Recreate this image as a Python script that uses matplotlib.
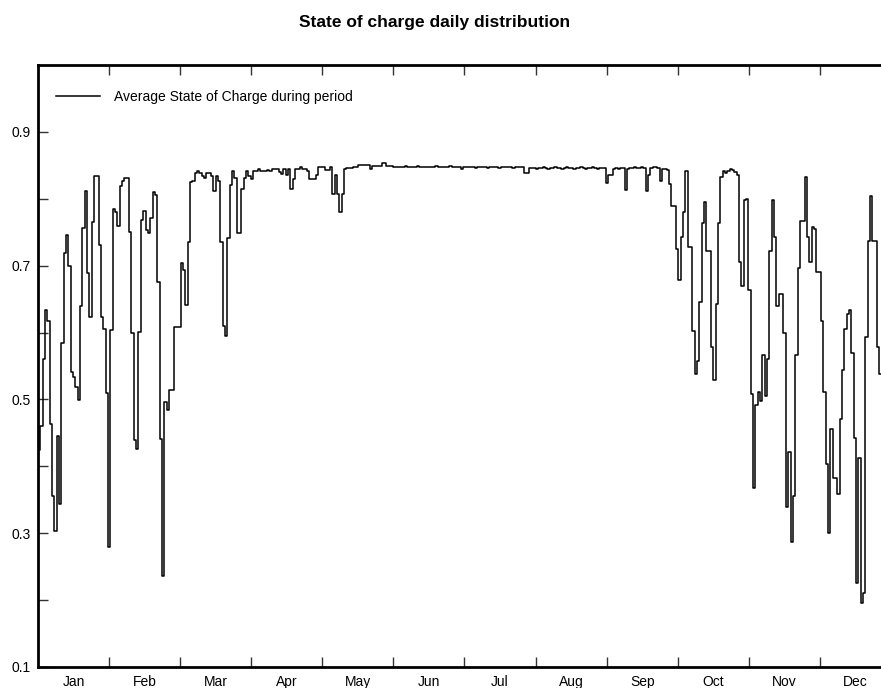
import numpy as np
import matplotlib
matplotlib.use("Agg")
import matplotlib.pyplot as plt
from matplotlib.ticker import FixedLocator, NullFormatter, FixedFormatter

# Daily average state of charge, one value per day, grouped by month
month_labels = ["Jan", "Feb", "Mar", "Apr", "May", "Jun",
                "Jul", "Aug", "Sep", "Oct", "Nov", "Dec"]

jan = [0.424, 0.461, 0.56, 0.634, 0.617, 0.464, 0.356, 0.304, 0.446, 0.344,
       0.585, 0.719, 0.746, 0.699, 0.541, 0.534, 0.519, 0.499, 0.639, 0.756,
       0.811, 0.689, 0.624, 0.766, 0.834, 0.834, 0.731, 0.624, 0.606, 0.509,
       0.28]
feb = [0.604, 0.784, 0.78, 0.759, 0.819, 0.826, 0.831, 0.831, 0.751, 0.599,
       0.44, 0.426, 0.601, 0.769, 0.781, 0.754, 0.749, 0.771, 0.81, 0.806,
       0.676, 0.441, 0.236, 0.496, 0.484, 0.514, 0.514, 0.609]
mar = [0.609, 0.609, 0.704, 0.694, 0.641, 0.735, 0.825, 0.826, 0.839, 0.841,
       0.839, 0.834, 0.831, 0.839, 0.838, 0.834, 0.811, 0.834, 0.826, 0.735,
       0.61, 0.595, 0.741, 0.821, 0.841, 0.831, 0.749, 0.749, 0.814, 0.831,
       0.841]
apr = [0.834, 0.83, 0.842, 0.842, 0.845, 0.842, 0.842, 0.842, 0.843, 0.842,
       0.845, 0.845, 0.845, 0.840, 0.837, 0.845, 0.835, 0.845, 0.814, 0.830,
       0.845, 0.845, 0.847, 0.845, 0.845, 0.842, 0.830, 0.829, 0.829, 0.835]
may = [0.847, 0.847, 0.847, 0.843, 0.843, 0.848, 0.807, 0.836, 0.807, 0.78,
       0.807, 0.845, 0.846, 0.846, 0.846, 0.848, 0.848, 0.851, 0.851, 0.851,
       0.851, 0.851, 0.845, 0.849, 0.849, 0.849, 0.849, 0.853, 0.853, 0.849,
       0.849]
jun = [0.849, 0.848, 0.848, 0.847, 0.848, 0.848, 0.849, 0.848, 0.847, 0.848,
       0.848, 0.849, 0.848, 0.848, 0.847, 0.848, 0.848, 0.847, 0.848, 0.849,
       0.848, 0.848, 0.847, 0.848, 0.848, 0.849, 0.848, 0.847, 0.848, 0.848]
jul = [0.845, 0.847, 0.847, 0.848, 0.847, 0.847, 0.846, 0.847, 0.848, 0.847,
       0.847, 0.846, 0.847, 0.847, 0.848, 0.847, 0.846, 0.847, 0.847, 0.848,
       0.847, 0.847, 0.846, 0.847, 0.848, 0.847, 0.847, 0.839, 0.839, 0.846,
       0.846]
aug = [0.846, 0.845, 0.846, 0.846, 0.847, 0.846, 0.845, 0.846, 0.846, 0.847,
       0.846, 0.846, 0.845, 0.846, 0.847, 0.846, 0.846, 0.845, 0.846, 0.846,
       0.847, 0.846, 0.845, 0.846, 0.846, 0.847, 0.846, 0.845, 0.846, 0.846,
       0.846]
sep = [0.823, 0.835, 0.835, 0.845, 0.846, 0.845, 0.846, 0.846, 0.813, 0.845,
       0.846, 0.846, 0.847, 0.846, 0.846, 0.847, 0.846, 0.812, 0.835, 0.846,
       0.848, 0.848, 0.846, 0.826, 0.845, 0.845, 0.843, 0.822, 0.789, 0.789]
oct_ = [0.725, 0.679, 0.743, 0.780, 0.841, 0.728, 0.728, 0.602, 0.538, 0.557,
        0.645, 0.764, 0.795, 0.722, 0.722, 0.578, 0.529, 0.642, 0.764, 0.832,
        0.841, 0.838, 0.842, 0.845, 0.843, 0.840, 0.836, 0.706, 0.670, 0.798,
        0.799]
nov = [0.664, 0.508, 0.367, 0.492, 0.511, 0.498, 0.566, 0.505, 0.560, 0.722,
       0.798, 0.743, 0.639, 0.657, 0.657, 0.599, 0.339, 0.422, 0.287, 0.355,
       0.566, 0.697, 0.767, 0.767, 0.832, 0.743, 0.706, 0.758, 0.755, 0.691]
dec = [0.691, 0.618, 0.511, 0.404, 0.300, 0.456, 0.382, 0.382, 0.358, 0.471,
       0.544, 0.605, 0.627, 0.633, 0.569, 0.443, 0.226, 0.413, 0.196, 0.211,
       0.593, 0.737, 0.804, 0.737, 0.737, 0.578, 0.538, 0.639, 0.73, 0.74,
       0.72]

soc = np.array(jan + feb + mar + apr + may + jun + jul + aug + sep + oct_ + nov + dec)
n_days = len(soc)

y_major = [0.1, 0.3, 0.5, 0.7, 0.9]
y_minor = [0.2, 0.4, 0.6, 0.8]

plt.rcParams['font.family'] = ['Liberation Sans', 'DejaVu Sans']

W, H = 881, 688
fig = plt.figure(figsize=(W / 100, H / 100), dpi=100)
fig.patch.set_facecolor('white')
ax = fig.add_axes([38 / W, 21 / H, 853 / W, 602 / H])

edges = np.arange(n_days + 1)
ax.plot(edges, np.append(soc, soc[-1]), drawstyle='steps-post',
        color='black', linewidth=1.1,
        label='Average State of Charge during period')

ax.set_xlim(0, n_days)
ax.set_ylim(0.1, 1.0)

period = n_days / 12
ax.xaxis.set_major_locator(FixedLocator([period * k for k in range(1, 12)]))
ax.xaxis.set_major_formatter(NullFormatter())
ax.xaxis.set_minor_locator(FixedLocator([period * (k + 0.5) for k in range(12)]))
ax.xaxis.set_minor_formatter(FixedFormatter(month_labels))
ax.tick_params(axis='x', which='major', direction='in', length=7, width=1,
               top=True, bottom=True, color='#333333')
ax.tick_params(axis='x', which='minor', length=0, pad=6, labelsize=10)

ax.set_yticks(y_major)
ax.set_yticklabels([f"{v:.1f}" for v in y_major])
ax.set_yticks(y_minor, minor=True)
ax.tick_params(axis='y', which='both', direction='in', length=7, width=1,
               left=True, right=True, color='#333333', labelsize=10, pad=5)

for sp in ax.spines.values():
    sp.set_linewidth(2)

ax.legend(loc='center left', bbox_to_anchor=(56 / W, 1 - 97 / H),
          bbox_transform=fig.transFigure, frameon=False, fontsize=10,
          handlelength=3.2, handletextpad=1.0, borderpad=0, borderaxespad=0)

fig.text(435 / W, 1 - 22 / H, "State of charge daily distribution",
         ha='center', va='center', fontsize=12.5, fontweight='bold')

fig.savefig("out.png", dpi=100)
